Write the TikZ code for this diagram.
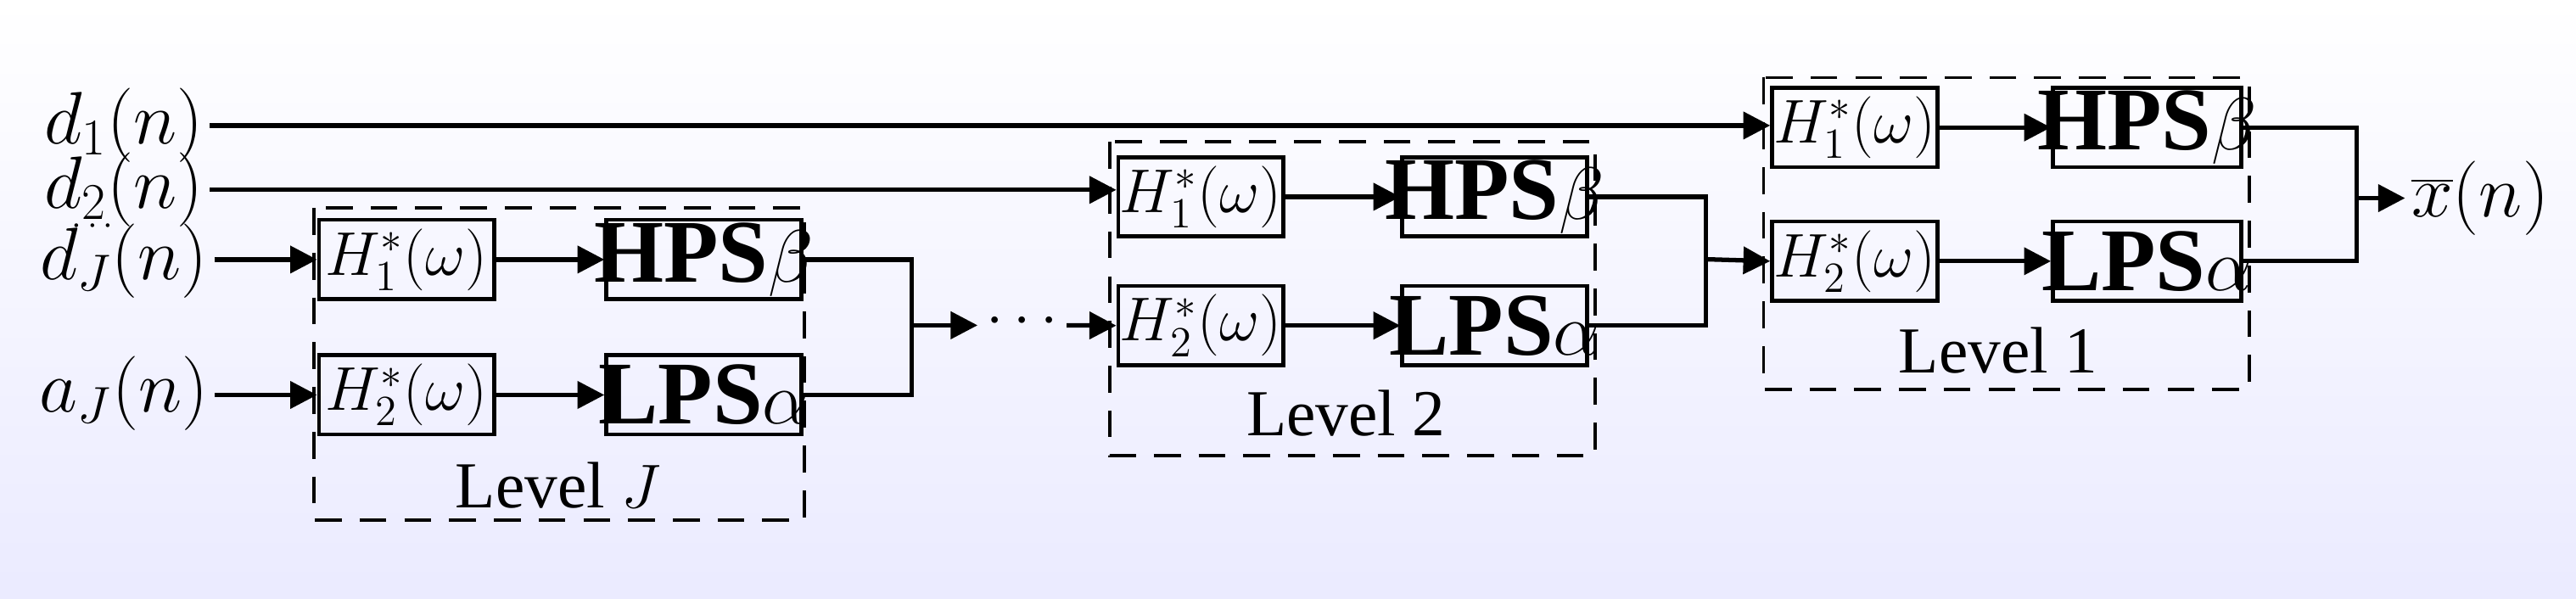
\documentclass[tikz,border=0pt]{standalone}
\usepackage{fontspec}
\setmainfont{Liberation Serif}
\usetikzlibrary{arrows.meta}
\begin{document}
\begin{tikzpicture}[x=0.01946cm,y=-0.01946cm,
  blk/.style 2 args={draw,line width=1.3pt,inner sep=0pt,anchor=north west,
     minimum width={#1*0.5537pt},minimum height={#2*0.5537pt}},
  ln/.style={line width=1.5pt},
  arr/.style={ln,-{Triangle[length=9pt,width=9pt]}},
  lvl/.style={draw,line width=1.1pt,dash pattern=on 9pt off 6pt},
  lab/.style={font=\fontsize{25}{27}\selectfont,inner sep=2pt},
  hb/.style={font=\fontsize{30}{32}\selectfont\bfseries},
  hf/.style={font=\fontsize{22}{24}\selectfont}]
\shade[top color=white,bottom color=blue!8!white] (0,0) rectangle (1560,362.3);
\useasboundingbox (0,0) rectangle (1560,362.3);
% inputs
\node[lab] (d1) at (75,76) {$d_1(n)$};
\node[lab] (d2) at (75,115) {$d_2(n)$};
\node[lab] (dJ) at (75,158) {$d_J(n)$};
\node[lab] (aJ) at (75,238) {$a_J(n)$};
\node[font=\fontsize{12}{12}\selectfont,inner sep=0pt] (dots) at (56,137) {$\cdots$};
% Level J
\node[blk={106}{48}] (hj1) at (192,132) {};
\node[hf] at (hj1.center) {$H_1^*(\omega)$};
\node[blk={118}{48}] (pj1) at (366,132) {};
\node[hb] at (pj1.center) {HPS$\beta$};
\node[blk={106}{48}] (hj2) at (192,214) {};
\node[hf] at (hj2.center) {$H_2^*(\omega)$};
\node[blk={118}{48}] (pj2) at (366,214) {};
\node[hb] at (pj2.center) {LPS$\alpha$};
\draw[lvl] (190,126) rectangle (487,315);
\node[hf] (lJ) at (338,294) {Level $J$};
% Level 2
\node[blk={100}{48}] (h21) at (676,94) {};
\node[hf] at (h21.center) {$H_1^*(\omega)$};
\node[blk={112}{48}] (p21) at (848,94) {};
\node[hb] at (p21.center) {HPS$\beta$};
\node[blk={100}{48}] (h22) at (676,172) {};
\node[hf] at (h22.center) {$H_2^*(\omega)$};
\node[blk={112}{48}] (p22) at (848,172) {};
\node[hb] at (p22.center) {LPS$\alpha$};
\draw[lvl] (672,86) rectangle (966,276);
\node[hf] (l2) at (815,250) {Level 2};
% Level 1
\node[blk={100}{48}] (h11) at (1072,52) {};
\node[hf] at (h11.center) {$H_1^*(\omega)$};
\node[blk={114}{48}] (p11) at (1242,52) {};
\node[hb] at (p11.center) {HPS$\beta$};
\node[blk={100}{48}] (h12) at (1072,133) {};
\node[hf] at (h12.center) {$H_2^*(\omega)$};
\node[blk={114}{48}] (p12) at (1242,133) {};
\node[hb] at (p12.center) {LPS$\alpha$};
\draw[lvl] (1068,47) rectangle (1362,236);
\node[hf] (l1) at (1210,212) {Level 1};
\node[lab] (xo) at (1502,120) {$\overline{x}(n)$};
% connections
\draw[arr] (d1.east) -- (d1.east -| h11.west);
\draw[arr] (d2.east) -- (d2.east -| h21.west);
\draw[arr] (hj1.west -| dJ.east) -- (hj1.west);
\draw[arr] (hj2.west -| aJ.east) -- (hj2.west);
\draw[arr] (hj1) -- (pj1);
\draw[arr] (hj2) -- (pj2);
\draw[arr] (h21) -- (p21);
\draw[arr] (h22) -- (p22);
\draw[arr] (h11) -- (p11);
\draw[arr] (h12) -- (p12);
\coordinate (mJ) at (552,197);
\coordinate (aJe) at (592,197);
\coordinate (dJs) at (646,197);
\draw[ln] (pj1.east) -| (mJ) |- (pj2.east);
\draw[arr] (mJ) -- (aJe);
\node[font=\fontsize{20}{20}\selectfont] (cd) at (619,195) {$\cdots$};
\draw[arr] (dJs) -- (h22.west);
\coordinate (m2) at (1033,157);
\draw[ln] (p21.east) -| (m2) |- (p22.east);
\draw[arr] (m2) -- (h12.west);
\coordinate (m1) at (1427,120);
\draw[ln] (p11.east) -| (m1) |- (p12.east);
\draw[arr] (m1) -- (xo.west);
\end{tikzpicture}
\end{document}
